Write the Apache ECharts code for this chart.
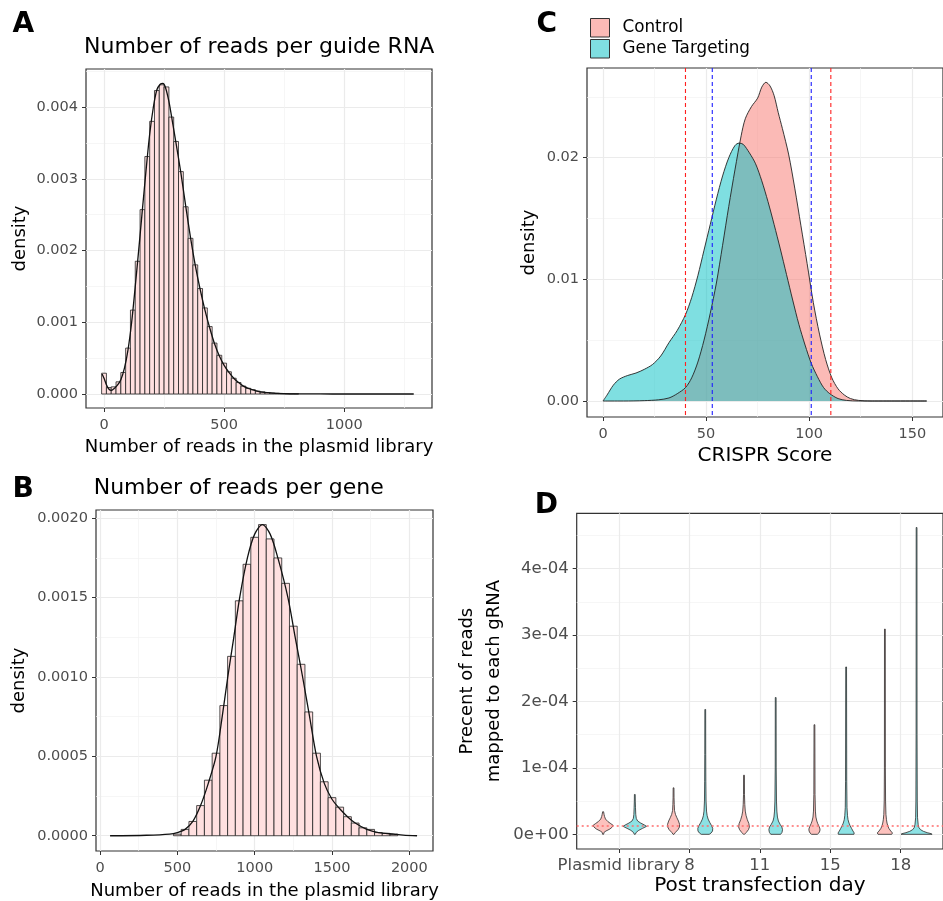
<!DOCTYPE html>
<html>
<head>
<meta charset="utf-8">
<script src="https://cdn.jsdelivr.net/npm/echarts@6.0.0/dist/echarts.min.js"></script>
<style>
html, body { margin: 0; padding: 0; background: #fff; }
#main { width: 943px; height: 901px; }
</style>
</head>
<body>
<div id="main"></div>
<script>
// A: reads per guide RNA, histogram (bin centres) + density curve
var guideBins = [0,20,40,60,80,100,120,140,160,180,200,220,240,260,280,300,320,340,360,380,400,
  420,440,460,480,500,520,540,560,580,600,620,640,660,680,700,720,740,760,780,800];
var guideHeights = [0.00029,0.00009,0.0001,0.00017,0.0003,0.00064,0.00117,0.00185,0.00257,0.00331,
  0.0038,0.00423,0.00431,0.00428,0.00386,0.00352,0.0031,0.00261,0.00217,0.0018,0.00147,0.0012,
  0.00094,0.00071,0.00054,0.00043,0.00031,0.00022,0.00016,0.00011,0.00008,0.00006,0.00004,
  0.00003,0.00002,0.000015,0.00001,0.000007,0.000005,0.000004,0.000003];
var guideCurve = [[-8,0.00028],[0,0.00022],[10,0.00013],[20,0.00007],[30,0.00005],[40,0.00007],
  [55,0.00012],[70,0.0002],[85,0.00036],[100,0.00062],[115,0.001],[130,0.0015],[145,0.00203],
  [160,0.00258],[175,0.00312],[190,0.00362],[205,0.00399],[220,0.00424],[235,0.00432],[245,0.00433],
  [255,0.00428],[270,0.00408],[285,0.00379],[300,0.00349],[320,0.00308],[340,0.00262],[360,0.00218],
  [380,0.00179],[400,0.00146],[420,0.00117],[440,0.00092],[460,0.0007],[480,0.00053],[500,0.0004],
  [520,0.0003],[540,0.00022],[560,0.00016],[580,0.00011],[600,0.00008],[650,0.00003],[700,0.000013],
  [750,0.000006],[800,0.000003],[900,0.000001],[1000,0],[1289,0]];

// B: reads per gene
var geneBins = [500,550,600,650,700,750,800,850,900,950,1000,1050,1100,1150,1200,1250,1300,1350,
  1400,1450,1500,1550,1600,1650,1700,1750,1800,1850,1900];
var geneHeights = [0.00001,0.00004,0.00009,0.00019,0.00035,0.00052,0.00082,0.00113,0.00148,0.00171,
  0.00188,0.00196,0.00187,0.00175,0.00159,0.00132,0.00108,0.00078,0.00052,0.00034,0.00024,0.00018,
  0.00012,0.00008,0.00005,0.00004,0.00002,0.000015,0.00001];
var geneCurve = [[65,0],[300,0.000003],[450,0.00001],[500,0.00002],[550,0.00004],[600,0.00009],
  [650,0.00019],[700,0.00033],[750,0.0005],[790,0.00075],[826,0.001],[865,0.00125],[903,0.0015],
  [953,0.00175],[1000,0.0019],[1050,0.00196],[1100,0.0019],[1150,0.00175],[1215,0.0015],
  [1262,0.00125],[1310,0.001],[1355,0.00075],[1400,0.0005],[1450,0.00033],[1500,0.00023],
  [1550,0.00017],[1600,0.00012],[1650,0.00008],[1725,0.00004],[1800,0.00002],[1900,0.00001],
  [1960,0.000004],[2050,0]];

// C: CRISPR score densities
var controlScore = [[0,0],[10,0],[20,0.00003],[27,0.0001],[32,0.00025],[36,0.0006],[40,0.0011],
  [43,0.0019],[46,0.0032],[49,0.005],[52,0.0072],[55,0.0097],[58,0.0128],[61,0.016],[64,0.019],
  [67,0.0218],[69,0.0232],[72,0.0242],[75,0.0249],[77,0.0258],[79,0.0262],[81,0.0259],[83,0.0251],
  [85,0.0237],[87,0.0224],[90,0.0203],[93,0.0175],[96,0.0144],[99,0.0113],[102,0.0081],[105,0.0055],
  [108,0.0034],[111,0.0019],[114,0.001],[117,0.0005],[120,0.0002],[124,0.00005],[130,0],[157,0]];
var targetingScore = [[0,0],[2,0.0005],[5,0.0013],[8,0.0018],[12,0.0021],[16,0.0023],[20,0.0026],
  [24,0.003],[28,0.0037],[32,0.0048],[36,0.0058],[40,0.0071],[43,0.0085],[46,0.0103],[49,0.0124],
  [52,0.0145],[55,0.0166],[58,0.0185],[61,0.02],[64,0.021],[66,0.0212],[68,0.0211],[71,0.0204],
  [74,0.0195],[77,0.0181],[80,0.0164],[83,0.0145],[86,0.0125],[89,0.0104],[92,0.0083],[95,0.0063],
  [98,0.0046],[101,0.0031],[104,0.002],[107,0.0011],[110,0.0006],[114,0.0002],[118,0.00005],
  [124,0],[157,0]];
var controlCuts = [40, 110.5];
var targetingCuts = [53, 101];

// D: violins, each point is [value in 1e-5, relative half width]
var days = ['Plasmid library', '8', '11', '15', '18'];
var controlViolins = [
  [[0,0.03],[0.3,0.06],[0.5,0.18],[0.8,0.43],[1.1,0.58],[1.35,0.63],[1.6,0.49],[1.9,0.31],[2.3,0.15],[2.7,0.09],[3.0,0.06],[3.4,0.03]],
  [[0,0.03],[0.3,0.12],[0.7,0.28],[1.1,0.37],[1.5,0.38],[2.0,0.31],[2.5,0.21],[3.0,0.12],[3.6,0.06],[4.5,0.043],[5.5,0.03],[7.0,0.025]],
  [[0,0.03],[0.3,0.15],[0.7,0.28],[1.1,0.34],[1.6,0.31],[2.2,0.21],[2.8,0.135],[3.5,0.08],[4.5,0.05],[6.0,0.03],[8.9,0.025]],
  [[0,0.18],[0.2,0.28],[0.5,0.34],[0.8,0.35],[1.2,0.29],[1.6,0.21],[2.0,0.15],[2.6,0.092],[3.5,0.06],[6.0,0.037],[16.5,0.025]],
  [[0,0.43],[0.2,0.48],[0.5,0.37],[0.9,0.25],[1.3,0.18],[1.7,0.135],[2.2,0.1],[3.0,0.067],[5.0,0.043],[10,0.03],[30.9,0.025]]
];
var targetingViolins = [
  [[0,0.03],[0.3,0.092],[0.6,0.25],[0.9,0.49],[1.2,0.74],[1.4,0.61],[1.7,0.37],[2.0,0.18],[2.4,0.092],[3.0,0.06],[4.0,0.043],[5.0,0.03],[6.0,0.025]],
  [[0,0.25],[0.2,0.37],[0.5,0.46],[0.9,0.47],[1.3,0.4],[1.8,0.28],[2.3,0.18],[2.8,0.12],[3.5,0.08],[5,0.05],[8,0.037],[12,0.03],[18.8,0.025]],
  [[0,0.31],[0.3,0.4],[0.7,0.43],[1.1,0.39],[1.5,0.28],[2.0,0.17],[2.6,0.11],[3.5,0.074],[5,0.05],[10,0.03],[20.6,0.025]],
  [[0,0.49],[0.2,0.51],[0.5,0.43],[0.9,0.34],[1.3,0.25],[1.7,0.18],[2.2,0.12],[2.8,0.086],[4,0.055],[8,0.037],[25.2,0.025]],
  [[0,0.98],[0.1,0.92],[0.25,0.67],[0.45,0.43],[0.7,0.25],[1.0,0.15],[1.5,0.1],[2.5,0.06],[5,0.043],[15,0.03],[46.2,0.025]]
];
var plasmidLevel = 1.25e-5;

var FONT = 'DejaVu Sans';
var GREY = '#4D4D4D';

function valueAxis(o) {
  return {
    type: 'value', gridIndex: o.grid, min: o.min, max: o.max,
    minInterval: o.step, maxInterval: o.step,
    name: o.name, nameLocation: 'middle', nameGap: o.gap,
    nameTextStyle: { fontFamily: FONT, fontSize: o.nameSize || 18, color: '#000', lineHeight: o.lineHeight },
    axisLine: { show: false, onZero: false },
    axisTick: { show: true, length: 4, customValues: o.ticks, lineStyle: { color: '#333', width: 1 } },
    axisLabel: { customValues: o.ticks, formatter: o.fmt || function (v) { return String(v); }, margin: o.margin,
      fontFamily: FONT, fontSize: o.labelSize || 14.5, color: GREY },
    splitLine: { show: true, lineStyle: { color: '#EBEBEB', width: 1.2 } },
    minorTick: { show: false, splitNumber: 2 },
    minorSplitLine: { show: o.minor !== false, lineStyle: { color: '#F2F2F2', width: 0.7 } }
  };
}

function sci(v) {
  if (v === 0) return '0e+00';
  return v.toExponential(0).replace(/e([+-])(\d)$/, function (m, s, d) { return 'e' + s + '0' + d; });
}

function histItem(bins) {
  var w = bins[1] - bins[0];
  return function (params, api) {
    var c = api.value(0), h = api.value(1);
    var p0 = api.coord([c - w / 2, h]);
    var p1 = api.coord([c + w / 2, 0]);
    return { type: 'rect',
      shape: { x: p0[0], y: p0[1], width: p1[0] - p0[0], height: p1[1] - p0[1] },
      style: { fill: '#FFE0E0', stroke: '#222', lineWidth: 0.8 } };
  };
}

function violinItem(profiles, offset, fill) {
  var half = 0.225;
  return function (params, api) {
    var prof = profiles[params.dataIndex];
    var x0 = api.value(0) + offset;
    var right = [], left = [];
    prof.forEach(function (p) {
      right.push(api.coord([x0 + p[1] * half, p[0] * 1e-5]));
      left.push(api.coord([x0 - p[1] * half, p[0] * 1e-5]));
    });
    return { type: 'polygon', shape: { points: right.concat(left.reverse()) },
      style: { fill: fill, stroke: '#2b2b2b', lineWidth: 0.8 } };
  };
}

// vertical cut-off lines spanning the whole panel
function cutSeries(values, color) {
  return { type: 'custom', name: 'cut' + color, xAxisIndex: 2, yAxisIndex: 2, z: 5, silent: true,
    data: values.map(function (v) { return [v, 0]; }), encode: { x: 0, y: 1 },
    renderItem: function (params, api) {
      var cs = params.coordSys;
      var px = api.coord([api.value(0), 0])[0];
      return { type: 'line', shape: { x1: px, y1: cs.y, x2: px, y2: cs.y + cs.height },
        style: { stroke: color, lineWidth: 1.1, lineDash: [4, 3] } };
    } };
}

var gridBox = { show: true, borderColor: '#333', borderWidth: 1.2, backgroundColor: 'transparent' };
var letterStyle = { fontFamily: FONT, fontWeight: 'bold', fontSize: 28, color: '#000' };
var titleStyle = { fontFamily: FONT, fontWeight: 'normal', fontSize: 22, color: '#000' };

var option = {
  animation: false,
  backgroundColor: '#fff',
  textStyle: { fontFamily: FONT },
  title: [
    { text: 'A', left: 12.5, top: 11, padding: 0, textStyle: letterStyle },
    { text: 'Number of reads per guide RNA', left: 84, top: 36, padding: 0, textStyle: titleStyle },
    { text: 'B', left: 12.5, top: 475.5, padding: 0, textStyle: letterStyle },
    { text: 'Number of reads per gene', left: 93.7, top: 477, padding: 0, textStyle: titleStyle },
    { text: 'C', left: 536.6, top: 10.8, padding: 0, textStyle: letterStyle },
    { text: 'D', left: 534.8, top: 491.3, padding: 0, textStyle: letterStyle }
  ],
  legend: {
    orient: 'vertical', left: 590, top: 18, padding: 0, itemGap: 1.5,
    itemWidth: 19, itemHeight: 18.5, icon: 'rect', selectedMode: false,
    textStyle: { fontFamily: FONT, fontSize: 16.8, color: '#000', padding: [0, 0, 0, 8] },
    data: [
      { name: 'Control', itemStyle: { color: 'rgba(248,118,109,0.5)', borderColor: '#333', borderWidth: 1 } },
      { name: 'Gene Targeting', itemStyle: { color: 'rgba(0,191,196,0.5)', borderColor: '#333', borderWidth: 1 } }
    ]
  },
  grid: [
    Object.assign({ left: 86, top: 69, width: 346, height: 339 }, gridBox),
    Object.assign({ left: 96, top: 510, width: 337, height: 342 }, gridBox),
    Object.assign({ left: 587, top: 68, width: 362.6, height: 349 }, gridBox),
    Object.assign({ left: 576.7, top: 513.3, width: 375.3, height: 335.7 }, gridBox)
  ],
  xAxis: [
    valueAxis({ grid: 0, min: -75, max: 1365, step: 500, ticks: [0, 500, 1000],
      name: 'Number of reads in the plasmid library', gap: 30, margin: 10 }),
    valueAxis({ grid: 1, min: -26, max: 2153, step: 500, ticks: [0, 500, 1000, 1500, 2000],
      name: 'Number of reads in the plasmid library', gap: 31, margin: 10 }),
    valueAxis({ grid: 2, min: -7.76, max: 164.9, step: 50, ticks: [0, 50, 100, 150],
      name: 'CRISPR Score', nameSize: 20, gap: 29, margin: 10 }),
    valueAxis({ grid: 3, min: -0.6, max: 4.6, step: 1, ticks: [0, 1, 2, 3, 4],
      fmt: function (v) { return days[v]; }, minor: false,
      name: 'Post transfection day', nameSize: 20, gap: 27, margin: 8, labelSize: 16.5 })
  ],
  yAxis: [
    valueAxis({ grid: 0, min: -0.000195, max: 0.00453, step: 0.001, ticks: [0, 0.001, 0.002, 0.003, 0.004],
      fmt: function (v) { return v.toFixed(3); }, name: 'density', gap: 57, margin: 8 }),
    valueAxis({ grid: 1, min: -0.0000961, max: 0.002052, step: 0.0005, ticks: [0, 0.0005, 0.001, 0.0015, 0.002],
      fmt: function (v) { return v.toFixed(4); }, name: 'density', gap: 68, margin: 8 }),
    valueAxis({ grid: 2, min: -0.001315, max: 0.027374, step: 0.01, ticks: [0, 0.01, 0.02],
      fmt: function (v) { return v.toFixed(2); }, name: 'density', gap: 49, margin: 8 }),
    valueAxis({ grid: 3, min: -0.0000221, max: 0.0004834, step: 0.0001, ticks: [0, 1e-4, 2e-4, 3e-4, 4e-4],
      fmt: sci, name: 'Precent of reads\nmapped to each gRNA', lineHeight: 27, gap: 69, margin: 8, labelSize: 16.5 })
  ],
  series: [
    { type: 'custom', name: 'guideHist', xAxisIndex: 0, yAxisIndex: 0, clip: true,
      data: guideBins.map(function (c, i) { return [c, guideHeights[i]]; }),
      encode: { x: 0, y: 1 }, renderItem: histItem(guideBins) },
    { type: 'line', name: 'guideDensity', xAxisIndex: 0, yAxisIndex: 0, data: guideCurve,
      smooth: 0.3, symbol: 'none', lineStyle: { color: '#111', width: 1.3 } },
    { type: 'custom', name: 'geneHist', xAxisIndex: 1, yAxisIndex: 1, clip: true,
      data: geneBins.map(function (c, i) { return [c, geneHeights[i]]; }),
      encode: { x: 0, y: 1 }, renderItem: histItem(geneBins) },
    { type: 'line', name: 'geneDensity', xAxisIndex: 1, yAxisIndex: 1, data: geneCurve,
      smooth: 0.3, symbol: 'none', lineStyle: { color: '#111', width: 1.3 } },
    { type: 'line', name: 'Control', xAxisIndex: 2, yAxisIndex: 2, data: controlScore,
      smooth: 0.3, symbol: 'none', itemStyle: { color: '#F8766D' },
      lineStyle: { color: '#222', width: 0.9 }, areaStyle: { color: '#F8766D', opacity: 0.5 } },
    { type: 'line', name: 'Gene Targeting', xAxisIndex: 2, yAxisIndex: 2, data: targetingScore,
      smooth: 0.3, symbol: 'none', itemStyle: { color: '#00BFC4' },
      lineStyle: { color: '#222', width: 0.9 }, areaStyle: { color: '#00BFC4', opacity: 0.5 } },
    cutSeries(controlCuts, '#FF2020'),
    cutSeries(targetingCuts, '#2020FF'),
    { type: 'custom', name: 'controlViolin', xAxisIndex: 3, yAxisIndex: 3, clip: true,
      data: days.map(function (d, i) { return [i, 0]; }), encode: { x: 0, y: 1 },
      renderItem: violinItem(controlViolins, -0.225, 'rgba(248,118,109,0.45)') },
    { type: 'custom', name: 'targetingViolin', xAxisIndex: 3, yAxisIndex: 3, clip: true,
      data: days.map(function (d, i) { return [i, 0]; }), encode: { x: 0, y: 1 },
      renderItem: violinItem(targetingViolins, 0.225, 'rgba(0,191,196,0.45)') },
    { type: 'line', name: 'plasmidRef', xAxisIndex: 3, yAxisIndex: 3, data: [], z: 5,
      markLine: { silent: true, precision: 12, symbol: ['none', 'none'], label: { show: false },
        lineStyle: { color: '#FF6B6B', type: [2, 3], width: 1.6 },
        data: [{ yAxis: plasmidLevel }] } }
  ]
};

var chart = echarts.init(document.getElementById('main'), null, { renderer: 'canvas' });
chart.setOption(option);
</script>
</body>
</html>
